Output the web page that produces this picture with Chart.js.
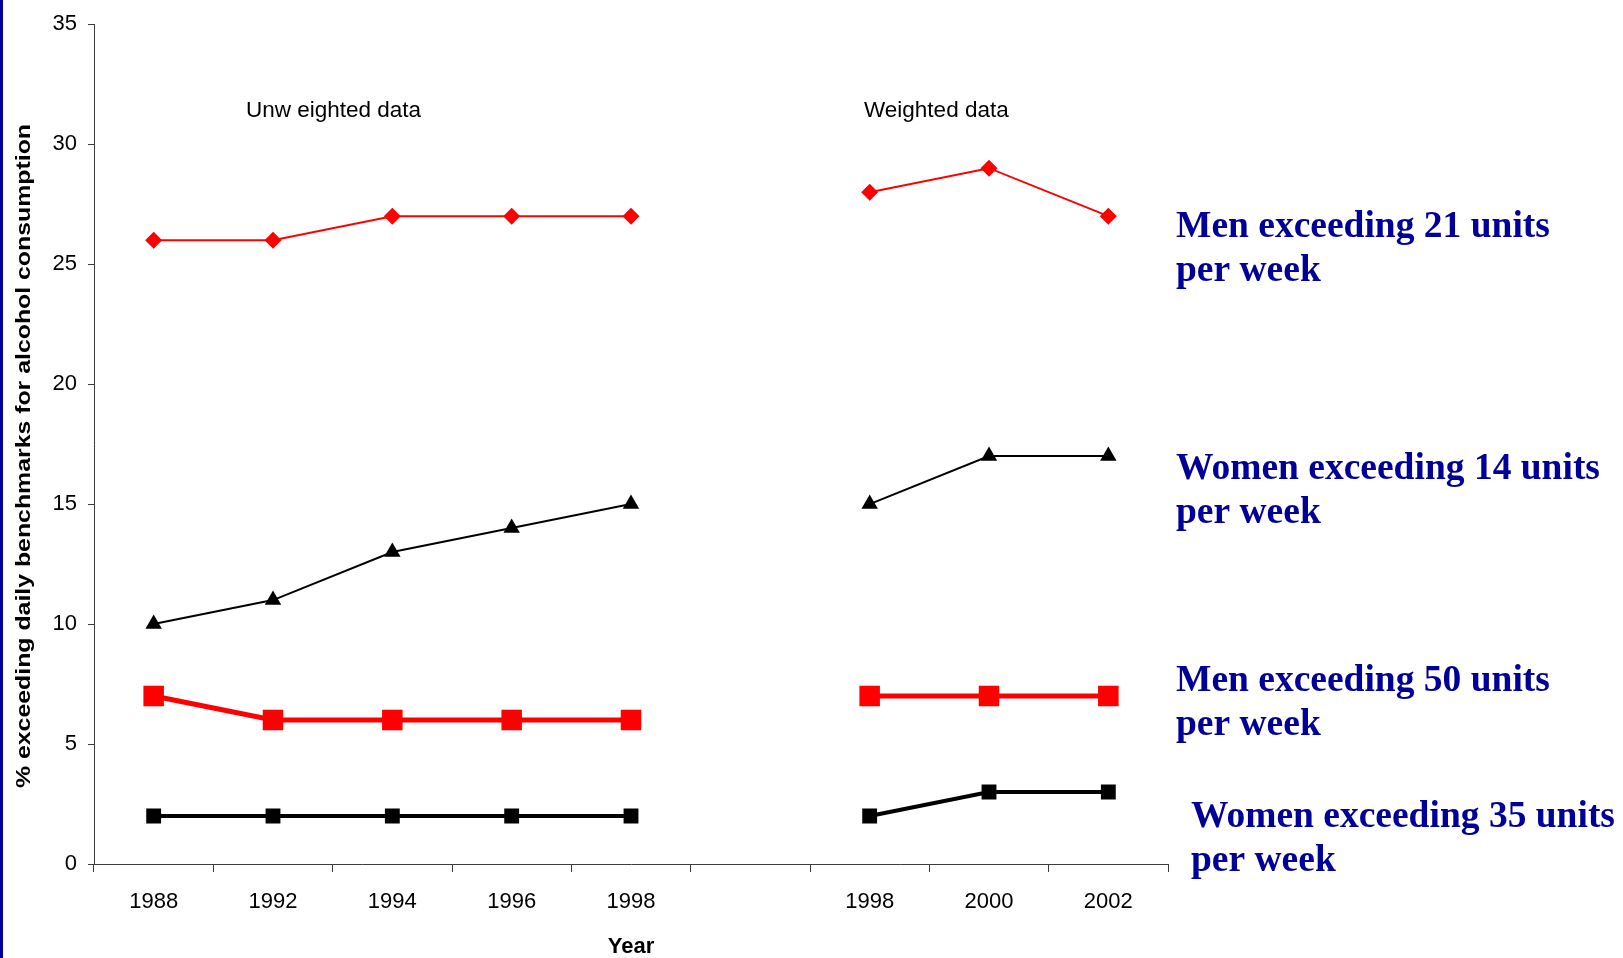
<!DOCTYPE html>
<html>
<head>
<meta charset="utf-8">
<title>Alcohol consumption benchmarks</title>
<script src="https://cdn.jsdelivr.net/npm/chart.js@4.4.0/dist/chart.umd.min.js"></script>
<style>
  html, body { margin: 0; padding: 0; background: #ffffff; overflow: hidden; }
  canvas { display: block; }
</style>
</head>
<body>
<canvas id="chart" width="1623" height="958"></canvas>
<script>
// Survey years: unweighted series, an empty spacer slot, then weighted series
const years = ['1988', '1992', '1994', '1996', '1998', '', '1998', '2000', '2002'];

// Percentage of adults exceeding each weekly benchmark
const men21   = [26, 26, 27, 27, 27, null, 28, 29, 27];
const women14 = [10, 11, 13, 14, 15, null, 15, 17, 17];
const men50   = [7, 6, 6, 6, 6, null, 7, 7, 7];
const women35 = [2, 2, 2, 2, 2, null, 2, 3, 3];

// Value axis range
const yMin = 0;
const yMax = 35;
const yStep = 5;

// Text shown on the chart
const yTitle = '% exceeding daily benchmarks for alcohol consumption';
const xTitle = 'Year';
const groupNames = ['Unw eighted data', 'Weighted data'];
const seriesNames = [
  ['Men exceeding 21 units', 'per week'],
  ['Women exceeding 14 units', 'per week'],
  ['Men exceeding 50 units', 'per week'],
  ['Women exceeding 35 units', 'per week']
];

const SANS = '"Liberation Sans", Arial, sans-serif';
const SERIF = '"Liberation Serif", "Times New Roman", serif';
const AXIS_COLOR = '#3c3c3c';
const LABEL_BLUE = '#000099';

// Draws the side stripe, the group captions, the rotated axis title
// and the series captions at the right of the plot.
const annotations = {
  id: 'annotations',
  beforeDraw(chart) {
    const ctx = chart.ctx;
    ctx.save();
    ctx.fillStyle = '#ffffff';
    ctx.fillRect(0, 0, chart.width, chart.height);
    ctx.fillStyle = '#00009c';
    ctx.fillRect(0, 0, 3, chart.height);
    ctx.restore();
  },
  afterDraw(chart) {
    const ctx = chart.ctx;
    ctx.save();

    // group captions
    ctx.fillStyle = '#000000';
    ctx.font = '22.5px ' + SANS;
    ctx.textAlign = 'left';
    ctx.textBaseline = 'alphabetic';
    ctx.fillText(groupNames[0], 246, 117);
    ctx.fillText(groupNames[1], 864, 117);

    // rotated value-axis title, stretched along its length
    ctx.save();
    ctx.font = 'bold 21px ' + SANS;
    const natural = ctx.measureText(yTitle).width;
    const span = 664;
    ctx.translate(24, 456);
    ctx.rotate(-Math.PI / 2);
    ctx.scale(span / natural, 1);
    ctx.textAlign = 'center';
    ctx.textBaseline = 'middle';
    ctx.fillText(yTitle, 0, 0);
    ctx.restore();

    // series captions
    ctx.fillStyle = LABEL_BLUE;
    ctx.font = 'bold 37.5px ' + SERIF;
    ctx.textAlign = 'left';
    ctx.textBaseline = 'alphabetic';
    const spots = [
      [1176, 237],
      [1176, 479],
      [1176, 691],
      [1191, 827]
    ];
    seriesNames.forEach((lines, i) => {
      const [x, y] = spots[i];
      lines.forEach((line, j) => ctx.fillText(line, x, y + j * 44));
    });

    ctx.restore();
  }
};

new Chart(document.getElementById('chart'), {
  type: 'line',
  data: {
    labels: years,
    datasets: [
      {
        label: seriesNames[0].join(' '),
        data: men21,
        borderColor: '#ff0000',
        backgroundColor: '#ff0000',
        borderWidth: 2,
        pointStyle: 'rectRot',
        pointRadius: 8.5,
        pointBorderWidth: 0
      },
      {
        label: seriesNames[1].join(' '),
        data: women14,
        borderColor: '#000000',
        backgroundColor: '#000000',
        borderWidth: 2,
        pointStyle: 'triangle',
        pointRadius: 9.5,
        pointBorderWidth: 0
      },
      {
        label: seriesNames[2].join(' '),
        data: men50,
        borderColor: '#ff0000',
        backgroundColor: '#ff0000',
        borderWidth: 5,
        pointStyle: 'rect',
        pointRadius: 14.5,
        pointBorderWidth: 0
      },
      {
        label: seriesNames[3].join(' '),
        data: women35,
        borderColor: '#000000',
        backgroundColor: '#000000',
        borderWidth: 4,
        pointStyle: 'rect',
        pointRadius: 10.5,
        pointBorderWidth: 0
      }
    ]
  },
  options: {
    responsive: false,
    animation: false,
    spanGaps: false,
    layout: { padding: { left: 0, top: 22, right: 455, bottom: 0 } },
    plugins: {
      legend: { display: false },
      tooltip: { enabled: false },
      title: { display: false }
    },
    elements: { line: { tension: 0 } },
    scales: {
      x: {
        type: 'category',
        offset: true,
        grid: {
          offset: true,
          drawOnChartArea: false,
          drawTicks: true,
          tickLength: 8,
          color: AXIS_COLOR,
          lineWidth: 1
        },
        border: { display: true, color: AXIS_COLOR, width: 1 },
        ticks: {
          color: '#000000',
          font: { family: SANS, size: 22 },
          padding: 17,
          maxRotation: 0,
          autoSkip: false
        },
        title: {
          display: true,
          text: xTitle,
          color: '#000000',
          font: { family: SANS, size: 22, weight: 'bold', lineHeight: 1.0 },
          padding: { top: 0, bottom: 0 }
        },
        afterFit(scale) { scale.height = 94; }
      },
      y: {
        min: yMin,
        max: yMax,
        grid: {
          drawOnChartArea: false,
          drawTicks: true,
          tickLength: 6,
          color: AXIS_COLOR,
          lineWidth: 1
        },
        border: { display: true, color: AXIS_COLOR, width: 1 },
        ticks: {
          stepSize: yStep,
          color: '#000000',
          font: { family: SANS, size: 22 },
          padding: 11
        },
        afterFit(scale) { scale.width = 94; }
      }
    }
  },
  plugins: [annotations]
});
</script>
</body>
</html>
